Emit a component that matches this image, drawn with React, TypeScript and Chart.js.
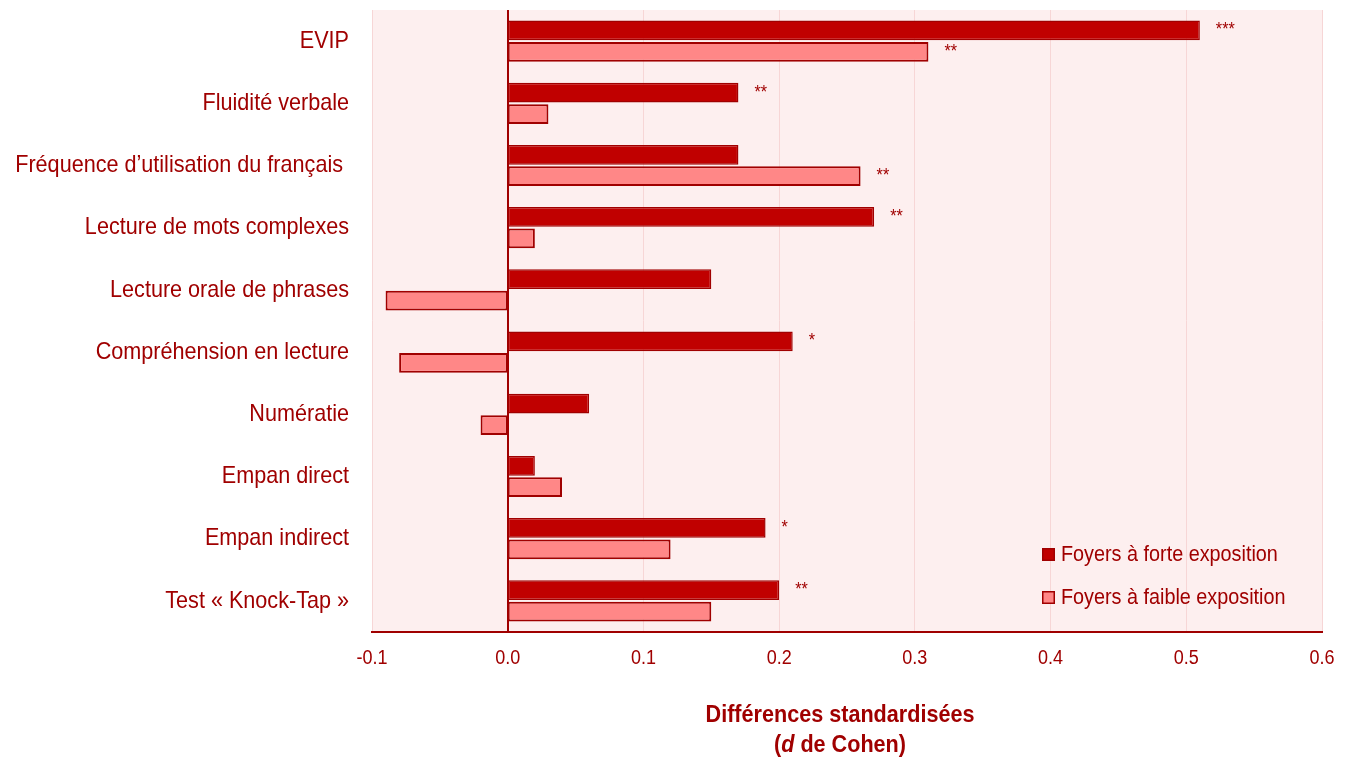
import React, { useEffect, useRef } from 'react';
import { Chart, registerables } from 'chart.js';

Chart.register(...registerables);

// Outcomes compared between households
const categories = [
  'EVIP',
  'Fluidité verbale',
  'Fréquence d’utilisation du français ',
  'Lecture de mots complexes',
  'Lecture orale de phrases',
  'Compréhension en lecture',
  'Numératie',
  'Empan direct',
  'Empan indirect',
  'Test « Knock-Tap »',
];

// Cohen's d per outcome
const forteValues = [0.51, 0.17, 0.17, 0.27, 0.15, 0.21, 0.06, 0.02, 0.19, 0.2];
const faibleValues = [0.31, 0.03, 0.26, 0.02, -0.09, -0.08, -0.02, 0.04, 0.12, 0.15];

// Significance markers
const forteSignif = ['***', '**', '', '**', '', '*', '', '', '*', '**'];
const faibleSignif = ['**', '', '**', '', '', '', '', '', '', ''];

const seriesNames = ['Foyers à forte exposition', 'Foyers à faible exposition'];
const axisTitleLine1 = 'Différences standardisées';

const FONT = "'Liberation Sans', Arial, sans-serif";
const SQUEEZE = 0.9; // condensed look for every text
const TEXT = '#A00000';
const DARK = '#C00000';
const LIGHT = '#FF8787';
const EDGE = '#A00000';
const PLOT_BG = '#FDEFEF';
const GRID = '#F7D6D6';

const isZero = (v: number) => Math.abs(v) < 1e-9;
const fmtTick = (v: number) => (isZero(v) ? '0.0' : v.toFixed(1));

// Draws text horizontally condensed, anchored at (x, y)
function squeezedText(ctx: CanvasRenderingContext2D, text: string, x: number, y: number, font: string, align: CanvasTextAlign) {
  ctx.save();
  ctx.translate(x, y);
  ctx.scale(SQUEEZE, 1);
  ctx.font = font;
  ctx.textAlign = align;
  ctx.textBaseline = 'middle';
  ctx.fillText(text, 0, 0);
  ctx.restore();
}

function squeezedWidth(ctx: CanvasRenderingContext2D, text: string, font: string) {
  ctx.save();
  ctx.font = font;
  const w = ctx.measureText(text).width * SQUEEZE;
  ctx.restore();
  return w;
}

const plotBackground = {
  id: 'plotBackground',
  beforeDraw(chart: any) {
    const { ctx, chartArea } = chart;
    ctx.save();
    ctx.fillStyle = PLOT_BG;
    ctx.fillRect(chartArea.left, chartArea.top, chartArea.right - chartArea.left, chartArea.bottom - chartArea.top);
    ctx.restore();
  },
};

// Tick labels of both axes, placed from the scales
const axisLabels = {
  id: 'axisLabels',
  afterDraw(chart: any) {
    const { ctx, chartArea } = chart;
    const ys = chart.scales.y;
    const xs = chart.scales.x;
    ctx.save();
    ctx.fillStyle = TEXT;
    (chart.data.labels as string[]).forEach((lab, i) => {
      squeezedText(ctx, lab, chartArea.left - 23, ys.getPixelForTick(i), `24px ${FONT}`, 'right');
    });
    xs.ticks.forEach((t: any) => {
      squeezedText(ctx, fmtTick(t.value), xs.getPixelForValue(t.value), chartArea.bottom + 26, `20px ${FONT}`, 'center');
    });
    ctx.restore();
  },
};

const signifMarks = {
  id: 'signifMarks',
  afterDatasetsDraw(chart: any) {
    const { ctx } = chart;
    const marks = [forteSignif, faibleSignif];
    ctx.save();
    ctx.fillStyle = TEXT;
    marks.forEach((list, di) => {
      const meta = chart.getDatasetMeta(di);
      meta.data.forEach((bar: any, i: number) => {
        const m = list[i];
        if (!m) return;
        squeezedText(ctx, m, bar.x + 16, bar.y, `18px ${FONT}`, 'left');
      });
    });
    ctx.restore();
  },
};

const innerLegend = {
  id: 'innerLegend',
  afterDraw(chart: any) {
    const { ctx, chartArea } = chart;
    const left = chartArea.right - 280;
    const rows = [chartArea.bottom - 77, chartArea.bottom - 34];
    ctx.save();
    chart.data.datasets.forEach((ds: any, i: number) => {
      const y = rows[i];
      ctx.fillStyle = ds.backgroundColor;
      ctx.fillRect(left, y - 7, 13, 13);
      ctx.strokeStyle = EDGE;
      ctx.lineWidth = 1.5;
      ctx.strokeRect(left + 0.75, y - 6.25, 11.5, 11.5);
      ctx.fillStyle = TEXT;
      squeezedText(ctx, ds.label, left + 19, y, `22px ${FONT}`, 'left');
    });
    ctx.restore();
  },
};

const axisTitle = {
  id: 'axisTitle',
  afterDraw(chart: any) {
    const { ctx, chartArea } = chart;
    const cx = (chartArea.left + chartArea.right) / 2 - 7;
    const y1 = chartArea.bottom + 83;
    const y2 = y1 + 30;
    const bold = `bold 24px ${FONT}`;
    const boldItalic = `italic bold 24px ${FONT}`;
    ctx.save();
    ctx.fillStyle = TEXT;
    squeezedText(ctx, axisTitleLine1, cx, y1, bold, 'center');

    // second line: "(d de Cohen)" with an italic d
    const parts = [
      { t: '(', f: bold },
      { t: 'd', f: boldItalic },
      { t: ' de Cohen)', f: bold },
    ];
    const total = parts.reduce((s, p) => s + squeezedWidth(ctx, p.t, p.f), 0);
    let x = cx - total / 2;
    parts.forEach((p) => {
      squeezedText(ctx, p.t, x, y2, p.f, 'left');
      x += squeezedWidth(ctx, p.t, p.f);
    });
    ctx.restore();
  },
};

export default function App() {
  const canvasRef = useRef<HTMLCanvasElement | null>(null);

  useEffect(() => {
    if (!canvasRef.current) return;
    const chart = new Chart(canvasRef.current, {
      type: 'bar',
      data: {
        labels: categories,
        datasets: [
          {
            label: seriesNames[0],
            data: forteValues,
            backgroundColor: DARK,
            borderColor: EDGE,
            borderWidth: 1.5,
            borderSkipped: false,
            categoryPercentage: 0.69,
            barPercentage: 0.92,
          },
          {
            label: seriesNames[1],
            data: faibleValues,
            backgroundColor: LIGHT,
            borderColor: EDGE,
            borderWidth: 2,
            borderSkipped: false,
            categoryPercentage: 0.69,
            barPercentage: 0.92,
          },
        ],
      },
      options: {
        indexAxis: 'y',
        responsive: false,
        animation: false,
        layout: { padding: { top: 10, right: 25, left: 0, bottom: 0 } },
        plugins: {
          legend: { display: false },
          tooltip: { enabled: false },
          title: { display: false },
        },
        scales: {
          x: {
            type: 'linear',
            min: -0.1,
            max: 0.6,
            ticks: {
              display: false,
              stepSize: 0.1,
            },
            grid: {
              drawTicks: false,
              color: (c: any) => (c.tick && isZero(c.tick.value) ? EDGE : GRID),
              lineWidth: (c: any) => (c.tick && isZero(c.tick.value) ? 2 : 1),
            },
            border: { display: true, color: EDGE, width: 2 },
            afterFit: (scale: any) => {
              scale.height = 126;
            },
          },
          y: {
            type: 'category',
            ticks: { display: false, autoSkip: false },
            grid: { display: false, drawTicks: false },
            border: { display: false },
            afterFit: (scale: any) => {
              scale.width = 372;
            },
          },
        },
      },
      plugins: [plotBackground, signifMarks, axisLabels, innerLegend, axisTitle],
    });
    return () => chart.destroy();
  }, []);

  return (
    <div style={{ position: 'absolute', left: 0, top: 0, width: 1347, height: 758, background: '#ffffff' }}>
      <canvas ref={canvasRef} width={1347} height={758} style={{ display: 'block' }} />
    </div>
  );
}
